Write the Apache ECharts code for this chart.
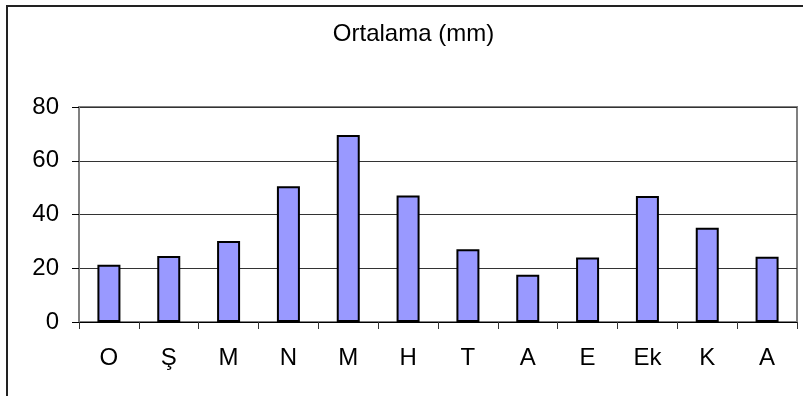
<!DOCTYPE html>
<html><head><meta charset="utf-8">
<script src="https://cdn.jsdelivr.net/npm/echarts@6/dist/echarts.min.js"></script>
<style>html,body{margin:0;padding:0;background:#fff}#c{width:803px;height:396px}</style>
</head><body><div id="c"></div>
<script>
const categories = ['O','Ş','M','N','M','H','T','A','E','Ek','K','A'];
const values = [21.3, 24.6, 30.1, 50.5, 69.6, 47.1, 27.1, 17.6, 24.0, 46.9, 35.1, 24.3];
const yTicks = [0, 20, 40, 60, 80];
const titleText = 'Ortalama (mm)';

const FONT = 'Liberation Sans, Arial, sans-serif';
const chart = echarts.init(document.getElementById('c'), null, {renderer:'canvas'});
chart.setOption({
  animation: false,
  backgroundColor: '#fff',
  graphic: [
    {type:'rect', shape:{x:7, y:6, width:830, height:430}, style:{fill:null, stroke:'#222', lineWidth:2}, z:0},
    {type:'text', x:413.5, y:34, style:{text:titleText, font:'24px ' + FONT, fill:'#000', textAlign:'center', textVerticalAlign:'middle'}, z:10}
  ],
  grid: {left:79, right:6, top:107, bottom:74, show:true, borderColor:'#808080', borderWidth:2, backgroundColor:'transparent'},
  xAxis: {
    type:'category', data: categories,
    axisLine:{show:true, lineStyle:{color:'#000', width:1}},
    axisTick:{show:true, length:7, lineStyle:{color:'#333', width:1}},
    axisLabel:{margin:24, fontSize:24, fontFamily:FONT, color:'#000'}
  },
  yAxis: {
    type:'value', min:yTicks[0], max:yTicks[yTicks.length-1], interval:20,
    axisLine:{show:true, lineStyle:{color:'#808080', width:2}},
    axisTick:{show:true, length:7, lineStyle:{color:'#000', width:1}},
    axisLabel:{margin:20, fontSize:24, fontFamily:FONT, color:'#000'},
    splitLine:{show:true, lineStyle:{color:'#333', width:1}}
  },
  series: [{
    type:'bar', data: values, barWidth:23,
    itemStyle:{color:'#9999FF', borderColor:'#000', borderWidth:2}
  }]
});
</script></body></html>
